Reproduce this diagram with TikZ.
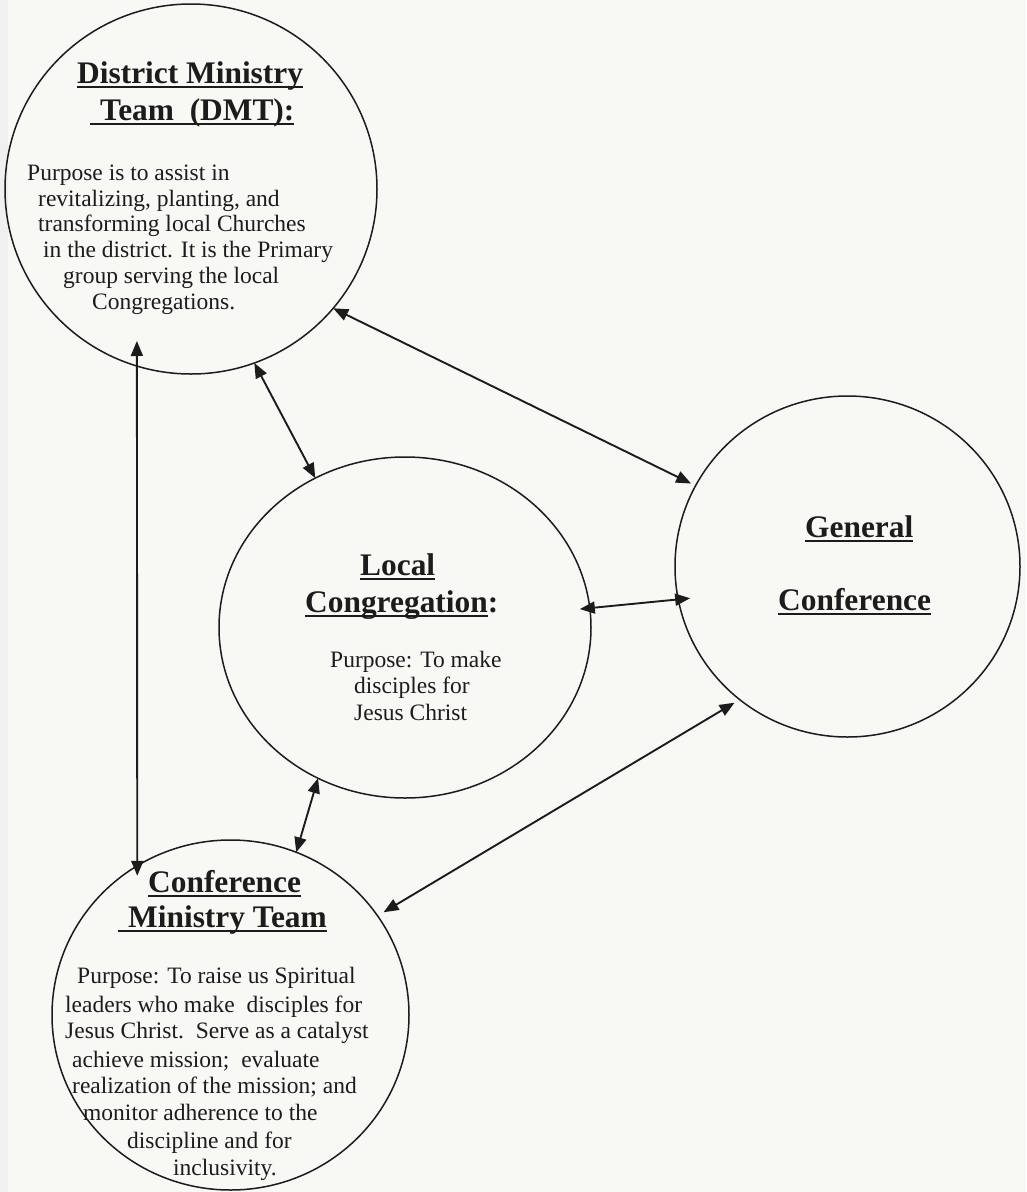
\documentclass[tikz,border=0pt]{standalone}
\usepackage{fontspec}
\setmainfont{Liberation Serif}
\usetikzlibrary{shapes.geometric,arrows.meta}
\definecolor{ink}{HTML}{1C1C1C}
\definecolor{paper}{HTML}{F8F8F4}
\newsavebox\ulbox
\newcommand\ulx[1]{\sbox\ulbox{#1}\rlap{\rule[-5pt]{\wd\ulbox}{1.8pt}}\usebox\ulbox}
\begin{document}
\begin{tikzpicture}[x=1pt,y=-1pt,
  bubble/.style={ellipse, draw=ink, line width=1.5pt, inner sep=0pt, outer sep=0pt},
  title/.style={font=\fontsize{31.4}{34}\selectfont\bfseries, text=ink, inner sep=0pt, anchor=base west},
  body/.style={font=\fontsize{23.5}{26}\selectfont, text=ink, inner sep=0pt, anchor=base west},
  link/.style={{Triangle[length=15pt,width=12pt]}-{Triangle[length=15pt,width=12pt]}, draw=ink, line width=1.9pt}]
\fill[paper] (0,0) rectangle (1026,1192);
\useasboundingbox (0,0) rectangle (1026,1192);
\fill[gray!12] (0,0) rectangle (8,1192);

% circles
\node[bubble, minimum width=372pt, minimum height=370pt] (dmt) at (191,189) {};
\node[bubble, minimum width=372pt, minimum height=341pt] (lc) at (405,627.5) {};
\node[bubble, minimum width=345pt, minimum height=341pt] (gc) at (847.5,566.5) {};
\node[bubble, minimum width=357pt, minimum height=350pt] (cmt) at (230.5,1015) {};

% titles
\node[title] (dmtt1) at (77,83) {\ulx{District Ministry}};
\node[title] (dmtt2) at (90,120) {\ulx{\hspace*{10pt}Team\hspace*{15.7pt}(DMT):}};
\node[title] (lct1) at (360,575) {\ulx{Local}};
\node[title] (lct2) at (305,612) {\ulx{Congregation}:};
\node[title] (gct1) at (805,537) {\ulx{General}};
\node[title] (gct2) at (778,610) {\ulx{Conference}};
\node[title] (cmtt1) at (148,892) {\ulx{Conference}};
\node[title] (cmtt2) at (118,927) {\ulx{\hspace*{10pt}Ministry Team}};

% body texts
\foreach \x/\y/\t [count=\i] in {
  27/180/{Purpose is to assist in},
  38/206/{revitalizing, planting, and},
  38/231/{transforming local Churches},
  43/257/{in the district. It is the Primary},
  63/283/{group serving the local},
  92/309/{Congregations.}}
  \node[body] (dmtl\i) at (\x,\y) {\t};

\foreach \x/\y/\t [count=\i] in {
  330/667/{Purpose: To make},
  354/693/{disciples for},
  354/720/{Jesus Christ}}
  \node[body] (lcl\i) at (\x,\y) {\t};

\foreach \x/\y/\t [count=\i] in {
  77/983/{Purpose: To raise us Spiritual},
  65/1012/{leaders who make\ \ disciples for},
  65/1038/{Jesus Christ.\ \ Serve as a catalyst},
  72/1067/{achieve mission;\ \ evaluate},
  72/1093/{realization of the mission; and},
  83/1120/{monitor adherence to the},
  127/1148/{discipline and for},
  173/1175/{inclusivity.}}
  \node[body] (cmtl\i) at (\x,\y) {\t};

% connectors
\draw[link, shorten >=5pt] (dmt.-40.7) -- (gc.152.4);
\draw[link] (dmt.-70.8) -- (lc.121.4);
\draw[link, shorten <=-25pt, shorten >=-10pt] (dmt.-107.6) -- (cmt.122.8);
\draw[link, shorten <=-10pt, shorten >=-12pt] (lc.6.7) -- (gc.-169.7);
\draw[link] (lc.-120.5) -- (cmt.68.9);
\draw[link, shorten <=7pt, shorten >=6pt] (cmt.34.7) -- (gc.-129.8);
\end{tikzpicture}
\end{document}
